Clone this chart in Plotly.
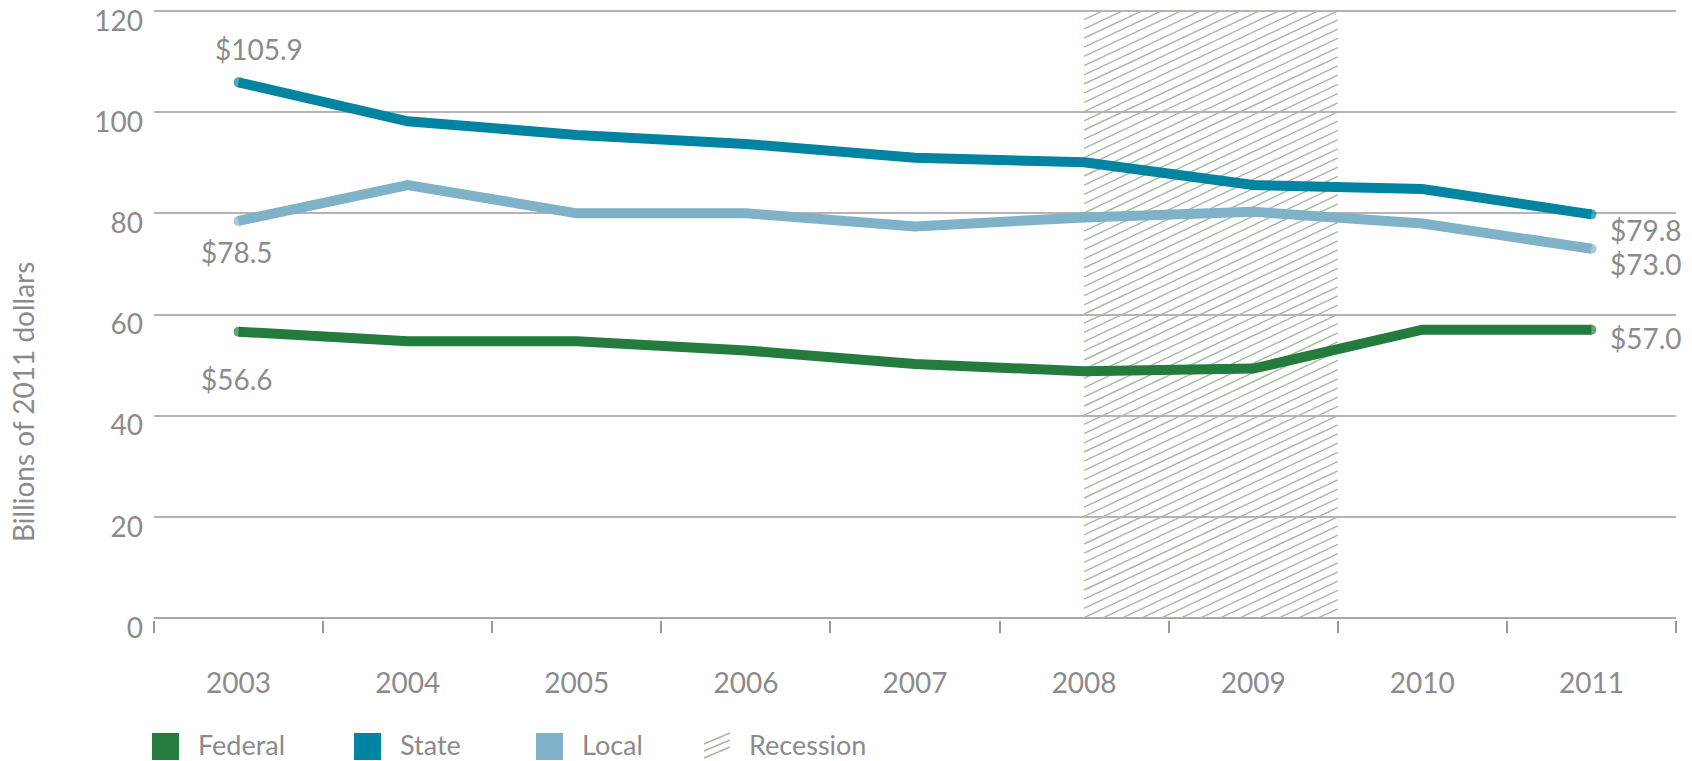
import plotly.graph_objects as go

# ---------------- data ----------------
years = [2003, 2004, 2005, 2006, 2007, 2008, 2009, 2010, 2011]
federal = [56.6, 54.7, 54.7, 52.9, 50.2, 48.8, 49.3, 57.0, 57.0]
state = [105.9, 98.2, 95.5, 93.7, 91.0, 90.1, 85.6, 84.8, 79.8]
local = [78.5, 85.6, 80.0, 80.0, 77.4, 79.2, 80.3, 78.0, 73.0]
recession = [2008, 2009.5]
y_ticks = [0, 20, 40, 60, 80, 100, 120]
series_names = ["Federal", "State", "Local"]
legend_labels = ["Federal", "State", "Local", "Recession"]

# ---------------- style ----------------
W_PX, H_PX = 1692, 761
YMIN, YMAX = 0, 120
YPAD = 0.4                      # small headroom so the 120 gridline is drawn
L, R = 154, 16
T, B = 9, 141
PW, PH = W_PX - L - R, H_PX - T - B
XMIN, XMAX = years[0] - 0.5, years[-1] + 0.5
FONT = "Lato"
TXT = "#8b8b8d"
GRID = "#b4b4b4"
HATCH = "#a3bc9e"
colors = {"Federal": "#237b3e", "State": "#0084a2", "Local": "#7fb1c8"}

RY0, RY1 = YMIN - YPAD, YMAX + YPAD


def px2paper(px, py):
    return (px - L) / PW, (H_PX - B - py) / PH


fig = go.Figure()

# hatch band for recession
kx = PW / (XMAX - XMIN)
ky = PH / (RY1 - RY0)
slope_px = 0.47
spacing_px = 9.2
slope = slope_px * kx / ky
spacing = spacing_px / ky
x0, x1 = recession
hx, hy = [], []
c = -slope * (x1 - x0)
while c < YMAX:
    xs = max(x0, x0 + (YMIN - c) / slope)
    xe = min(x1, x0 + (YMAX - c) / slope)
    if xe > xs:
        hx += [xs, xe, None]
        hy += [c + slope * (xs - x0), c + slope * (xe - x0), None]
    c += spacing
fig.add_trace(go.Scatter(x=hx, y=hy, mode="lines",
                         line=dict(color=HATCH, width=1.4),
                         hoverinfo="skip", showlegend=False))

# data lines
for name, vals in zip(series_names, [federal, state, local]):
    sizes = [10] + [0] * (len(vals) - 2) + [10]
    fig.add_trace(go.Scatter(
        x=years, y=vals, mode="lines+markers", name=name,
        line=dict(color=colors[name], width=10),
        marker=dict(size=sizes, color=colors[name], line=dict(width=0)),
        showlegend=False))

annfont = dict(family=FONT, size=28, color=TXT)
ann = []
# start labels
ann.append(dict(x=years[0], y=state[0], text=f"${state[0]:.1f}", showarrow=False,
                xanchor="center", yanchor="middle", xshift=20, yshift=33, font=annfont))
ann.append(dict(x=years[0], y=local[0], text=f"${local[0]:.1f}", showarrow=False,
                xanchor="center", yanchor="middle", xshift=-2, yshift=-31, font=annfont))
ann.append(dict(x=years[0], y=federal[0], text=f"${federal[0]:.1f}", showarrow=False,
                xanchor="center", yanchor="middle", xshift=-2, yshift=-47, font=annfont))
# end labels
for vals, ys in [(state, -16), (local, -15), (federal, -8)]:
    ann.append(dict(x=years[-1], y=vals[-1], text=f"${vals[-1]:.1f}", showarrow=False,
                    xanchor="left", yanchor="middle", xshift=17, yshift=ys, font=annfont))

# y-axis title
tx, ty = px2paper(23, 402)
ann.append(dict(x=tx, y=ty, xref="paper", yref="paper", text="Billions of 2011 dollars",
                textangle=-90, showarrow=False, xanchor="center", yanchor="middle",
                font=dict(family=FONT, size=28, color=TXT)))

# legend
shapes = []
sq_x = [152, 354, 536, 703]
sq_top, sq_bot = 733, 760
for i, lab in enumerate(legend_labels):
    if lab in colors:
        xa, ya = px2paper(sq_x[i], sq_top)
        xb, yb = px2paper(sq_x[i] + 27, sq_bot)
        shapes.append(dict(type="rect", xref="paper", yref="paper", x0=xa, x1=xb,
                           y0=yb, y1=ya, fillcolor=colors[lab], line=dict(width=0)))
    else:
        for k in range(3):
            xa, ya = px2paper(sq_x[i] + 1, sq_top + 11 + 7 * k)
            xb, yb = px2paper(sq_x[i] + 27, sq_top + 0 + 7 * k)
            shapes.append(dict(type="line", xref="paper", yref="paper", x0=xa, x1=xb,
                               y0=ya, y1=yb, line=dict(color=HATCH, width=1.6)))
    lx, ly = px2paper(sq_x[i] + 45, 744)
    ann.append(dict(x=lx, y=ly, xref="paper", yref="paper", text=lab, showarrow=False,
                    xanchor="left", yanchor="middle", borderpad=0,
                    font=dict(family=FONT, size=27, color=TXT)))

fig.update_layout(
    width=W_PX, height=H_PX,
    margin=dict(l=L, r=R, t=T, b=B, pad=0, autoexpand=False),
    paper_bgcolor="white", plot_bgcolor="white",
    annotations=ann, shapes=shapes,
    showlegend=False,
    xaxis=dict(range=[XMIN, XMAX], tickmode="array", tickvals=years,
               ticktext=[str(y) for y in years], automargin=False,
               ticks="outside", ticklen=12, tickcolor="rgba(0,0,0,0)",
               ticklabelstandoff=26,
               minor=dict(tickmode="array",
                          tickvals=[y - 0.5 for y in years] + [years[-1] + 0.5],
                          ticks="outside", ticklen=12, tickwidth=1.5, tickcolor="#9a9a9a",
                          showgrid=False),
               showgrid=False, zeroline=False, showline=False,
               tickfont=dict(family=FONT, size=28, color=TXT),
               fixedrange=True),
    yaxis=dict(range=[RY0, RY1], tickmode="array", tickvals=y_ticks, automargin=False,
               ticks="", showgrid=True, gridcolor=GRID, gridwidth=1.5,
               zeroline=True, zerolinecolor="#a8a8a8", zerolinewidth=1.5,
               showline=False, ticklabeloverflow="allow",
               ticklabelstandoff=10, ticklabelshift=10,
               tickfont=dict(family=FONT, size=28, color=TXT), fixedrange=True),
)

fig.write_html("out.html", config={"displayModeBar": False},
               post_script="document.body.style.margin='0';document.body.style.overflow='hidden';")
